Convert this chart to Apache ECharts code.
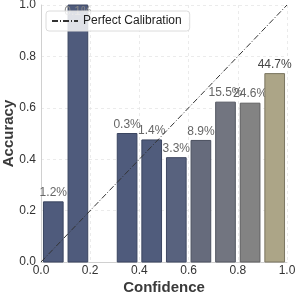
<!DOCTYPE html>
<html><head><meta charset="utf-8">
<script src="https://cdn.jsdelivr.net/npm/echarts@6/dist/echarts.min.js"></script>
<style>html,body{margin:0;padding:0;background:#fff}#c{width:297px;height:297px}</style>
</head><body><div id="c"></div>
<script>
const binCenters = [0.05, 0.15, 0.35, 0.45, 0.55, 0.65, 0.75, 0.85, 0.95];
const accuracy   = [0.234, 1.0, 0.50, 0.475, 0.406, 0.473, 0.622, 0.618, 0.733];
const percentLabels = ['1.2%', '0.1%', '0.3%', '1.4%', '3.3%', '8.9%', '15.5%', '24.6%', '44.7%'];
const barColors = ['#4f5b7c', '#4f5b7c', '#4f5b7c', '#505c7c', '#58627e', '#666b7c', '#727580', '#838383', '#aca587'];
const edgeColors = ['#3a4560', '#3a4560', '#3a4560', '#3a4560', '#3f4862', '#4b5060', '#545862', '#5f5f60', '#7a7560'];
const labelColors = ['#666', '#888', '#666', '#666', '#666', '#666', '#666', '#666', '#444'];
const ticks = [0, 0.2, 0.4, 0.6, 0.8, 1.0];
const binWidth = 0.08;
const FONT = 'Liberation Sans, Arial, sans-serif';

const chart = echarts.init(document.getElementById('c'));
const axisCommon = {
  type: 'value', min: 0, max: 1, interval: 0.2,
  axisLine: { show: true, lineStyle: { color: '#d0d0d0', width: 1 } },
  axisTick: { show: false },
  splitLine: { show: true, lineStyle: { color: '#e6e6e6', type: [3, 3], width: 0.8 } },
  axisLabel: { color: '#333', fontSize: 12, fontFamily: FONT, formatter: v => v.toFixed(1) },
  nameLocation: 'middle',
  nameMoveOverlap: false,
  nameTextStyle: { color: '#3a3a3a', fontSize: 15, fontWeight: 'bold', fontFamily: FONT }
};
chart.setOption({
  animation: false,
  grid: { left: 41, right: 10, top: 5, bottom: 35, containLabel: false, outerBoundsMode: 'none' },
  xAxis: Object.assign({}, axisCommon, { name: 'Confidence', nameGap: 18, axisLabel: Object.assign({}, axisCommon.axisLabel, { margin: 3 }) }),
  yAxis: Object.assign({}, axisCommon, { name: 'Accuracy', nameGap: 25, axisLabel: Object.assign({}, axisCommon.axisLabel, { margin: 5 }) }),
  legend: {
    show: true, left: 46, top: 11, data: [{ name: 'Perfect Calibration' }],
    backgroundColor: 'rgba(255,255,255,0.82)', borderColor: '#dcdcdc', borderWidth: 1, borderRadius: 3,
    padding: [4, 8, 4, 5], itemWidth: 26, itemHeight: 2, itemGap: 4,
    textStyle: { color: '#222', fontSize: 12, fontFamily: FONT }, z: 10
  },
  series: [
    {
      type: 'custom', name: 'bars', z: 2,
      data: binCenters.map((c, i) => [c, accuracy[i], i]),
      renderItem: function (params, api) {
        const i = api.value(2);
        const x = api.value(0), y = api.value(1);
        const p0 = api.coord([x - binWidth / 2, y]);
        const p1 = api.coord([x + binWidth / 2, 0]);
        const labelY = api.coord([x, Math.min(y, 0.94)])[1];
        return {
          type: 'group',
          children: [
            { type: 'rect', shape: { x: p0[0], y: p0[1], width: p1[0] - p0[0], height: p1[1] - p0[1] },
              style: { fill: barColors[i], stroke: edgeColors[i], lineWidth: 1 } },
            { type: 'text', x: (p0[0] + p1[0]) / 2, y: labelY - 3,
              style: { text: percentLabels[i], fill: labelColors[i], fontSize: 12, fontFamily: FONT, align: 'center', verticalAlign: 'bottom' } }
          ]
        };
      }
    },
    {
      type: 'line', name: 'Perfect Calibration', z: 3,
      data: [[0, 0], [1, 1]], symbol: 'none',
      lineStyle: { color: '#333', width: 1, type: [6, 2, 1, 2] },
      itemStyle: { color: '#333' }
    }
  ]
});
</script></body></html>
